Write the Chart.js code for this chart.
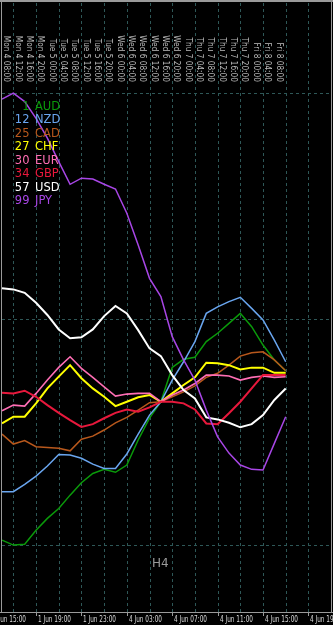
<!DOCTYPE html>
<html>
<head>
<meta charset="utf-8">
<script src="https://cdn.jsdelivr.net/npm/chart.js@4/dist/chart.umd.min.js"></script>
<style>
html,body{margin:0;padding:0;background:#000;}
#wrap{width:333px;height:625px;}
</style>
</head>
<body>
<div id="wrap"><canvas id="c" width="333" height="625"></canvas></div>
<script>
// ---- data ----
const barLabels = ['Mon 4 08:00','Mon 4 12:00','Mon 4 16:00','Mon 4 20:00','Tue 5 00:00','Tue 5 04:00','Tue 5 08:00','Tue 5 12:00','Tue 5 16:00','Tue 5 20:00','Wed 6 00:00','Wed 6 04:00','Wed 6 08:00','Wed 6 12:00','Wed 6 16:00','Wed 6 20:00','Thu 7 00:00','Thu 7 04:00','Thu 7 08:00','Thu 7 12:00','Thu 7 16:00','Thu 7 20:00','Fri 8 00:00','Fri 8 04:00','Fri 8 08:00','Fri 8 12:00'];
const axisLabels = ['1 Jun 15:00','1 Jun 19:00','1 Jun 23:00','4 Jun 03:00','4 Jun 07:00','4 Jun 11:00','4 Jun 15:00','4 Jun 19:00'];
const currencies = ['AUD','NZD','CAD','CHF','EUR','GBP','USD','JPY'];
const ranks = [1,12,25,27,30,34,57,99];
const levels = [-100, 0, 100];

const AUD = [-97.8,-100,-99.6,-93.4,-88.2,-83.8,-77.9,-72.4,-68.3,-66.5,-67.8,-64.6,-53.5,-43.8,-36.6,-21.4,-17.8,-16.9,-10.0,-6.3,-1.9,2.5,-3.4,-11.5,-18.1,-22.9];
const NZD = [-76.4,-76.4,-73.1,-69.5,-65.0,-59.9,-60.2,-61.6,-64.2,-66.1,-66.1,-59.7,-50.9,-42.5,-36.6,-27.0,-18.9,-10.0,2.5,5.4,7.7,9.6,4.7,-0.4,-9.3,-18.9];
const CAD = [-50.9,-55.3,-53.8,-56.5,-56.8,-57.2,-58.3,-53.2,-51.8,-49.1,-45.9,-43.5,-40.3,-37.0,-36.6,-34.4,-32.2,-29.6,-25.8,-24.0,-20.4,-16.4,-14.9,-14.5,-18.1,-22.9];
const CHF = [-46.2,-43.2,-43.2,-37.3,-30.7,-25.5,-20.4,-26.2,-30.7,-34.4,-38.5,-36.6,-34.6,-33.6,-36.6,-32.9,-29.2,-25.8,-19.3,-19.6,-20.4,-22.3,-21.5,-21.5,-23.8,-23.8];
const EUR = [-40.6,-38.1,-38.5,-32.9,-27.0,-21.4,-16.7,-21.8,-25.8,-30.0,-34.1,-33.2,-32.9,-32.9,-36.6,-33.6,-31.4,-28.5,-24.8,-24.8,-25.2,-27.0,-25.8,-25.2,-25.8,-25.5];
const GBP = [-32.6,-32.9,-31.7,-34.4,-38.1,-41.5,-44.7,-47.7,-46.5,-43.9,-41.5,-40.0,-41.0,-39.1,-36.6,-36.6,-37.3,-40.0,-46.2,-46.5,-41.7,-36.6,-30.7,-24.8,-24.8,-24.8];
const USD = [13.6,13.1,11.6,7.2,1.8,-4.6,-8.5,-8.1,-4.6,1.3,5.8,2.5,-4.9,-13.0,-16.4,-24.8,-31.4,-35.1,-43.5,-44.4,-45.9,-47.9,-46.5,-42.5,-35.8,-30.7];
const JPY = [97.3,99.9,96.2,88.8,80.0,69.6,59.6,62.3,61.9,59.6,57.5,46.8,32.7,18.0,9.9,-7.8,-18.1,-27.0,-40.3,-52.1,-59.3,-64.6,-66.5,-66.8,-55.0,-43.2];

// ---- styles ----
const seriesData = [AUD, NZD, CAD, CHF, EUR, GBP, USD, JPY];
const colors = ['#0a9a0a','#6aa6f0','#b8581c','#ffff00','#ff6eb4','#e8183c','#ffffff','#a846e6'];
const widths = [1.5,1.5,1.5,2,1.6,2,2,1.5];

const datasets = currencies.map((c, k) => ({
  label: c,
  data: seriesData[k].map((v, i) => ({x: i, y: v})),
  borderColor: colors[k],
  backgroundColor: colors[k],
  borderWidth: widths[k],
  pointRadius: 0,
  tension: 0,
  fill: false,
  clip: false
})).reverse();

const GRID = '#2e5757';
const FRAME = '#9a9a9a';

const mt4 = {
  id: 'mt4',
  beforeDraw(chart) {
    const ctx = chart.ctx;
    ctx.save();
    ctx.fillStyle = '#000';
    ctx.fillRect(0, 0, chart.width, chart.height);
    ctx.restore();
  },
  beforeDatasetsDraw(chart) {
    const ctx = chart.ctx, xs = chart.scales.x, ys = chart.scales.y, a = chart.chartArea;
    ctx.save();
    ctx.strokeStyle = GRID;
    ctx.lineWidth = 1;
    ctx.setLineDash([3, 3]);
    for (let i = 1; i <= 27; i += 2) {
      const px = Math.round(xs.getPixelForValue(i)) + 0.5;
      ctx.beginPath(); ctx.moveTo(px, a.top); ctx.lineTo(px, a.bottom); ctx.stroke();
    }
    levels.forEach(v => {
      const py = Math.round(ys.getPixelForValue(v)) + 0.5;
      ctx.beginPath(); ctx.moveTo(a.left, py); ctx.lineTo(a.right, py); ctx.stroke();
    });
    ctx.restore();
  },
  afterDatasetsDraw(chart) {
    const ctx = chart.ctx, xs = chart.scales.x, a = chart.chartArea;
    ctx.save();
    // frame
    ctx.fillStyle = FRAME;
    ctx.fillRect(0, 0, chart.width, 2);
    ctx.fillRect(1, 0, 1, a.bottom);
    ctx.fillRect(331, 0, 1, a.bottom);
    ctx.fillRect(0, a.bottom, chart.width, 1);

    // top rotated bar labels
    ctx.fillStyle = '#bcbcbc';
    ctx.font = '9px "DejaVu Sans"';
    ctx.textBaseline = 'middle';
    ctx.textAlign = 'right';
    for (let i = 0; i < barLabels.length - 1; i++) {
      const px = xs.getPixelForValue(i) + 4.5;
      ctx.save();
      ctx.translate(px, 82);
      ctx.rotate(Math.PI / 2);
      ctx.scale(0.82, 1);
      ctx.fillText(barLabels[i], 0, 0);
      ctx.restore();
    }

    // legend
    ctx.font = '11.5px "DejaVu Sans"';
    ctx.textBaseline = 'middle';
    currencies.forEach((c, k) => {
      const y = 107 + k * 13.45;
      ctx.fillStyle = colors[k];
      ctx.textAlign = 'right';
      ctx.fillText(String(ranks[k]), 29.5, y);
      ctx.textAlign = 'left';
      ctx.fillText(c, 35, y);
    });

    // H4
    ctx.fillStyle = '#9a9a9a';
    ctx.font = '12px "DejaVu Sans"';
    ctx.textAlign = 'left';
    ctx.fillText('H4', 152, 564);

    // bottom time axis
    ctx.font = '8.5px "DejaVu Sans"';
    ctx.textBaseline = 'middle';
    axisLabels.forEach((t, k) => {
      const px = Math.round(xs.getPixelForValue(-1 + 4 * k));
      ctx.fillStyle = FRAME;
      ctx.fillRect(px, a.bottom, 1, 4);
      ctx.fillStyle = '#d8d8d8';
      ctx.fillText(t, px + 2, 620, 33);
    });
    ctx.restore();
  }
};

new Chart(document.getElementById('c'), {
  type: 'line',
  data: { datasets },
  options: {
    responsive: false,
    devicePixelRatio: 1,
    animation: false,
    layout: { padding: { left: 2, right: 1, top: 3, bottom: 13 } },
    plugins: { legend: { display: false }, tooltip: { enabled: false } },
    scales: {
      x: { type: 'linear', min: 0, max: 29.08, display: false },
      y: { type: 'linear', min: -129.6, max: 139.8, display: false }
    }
  },
  plugins: [mt4]
});
</script>
</body>
</html>
